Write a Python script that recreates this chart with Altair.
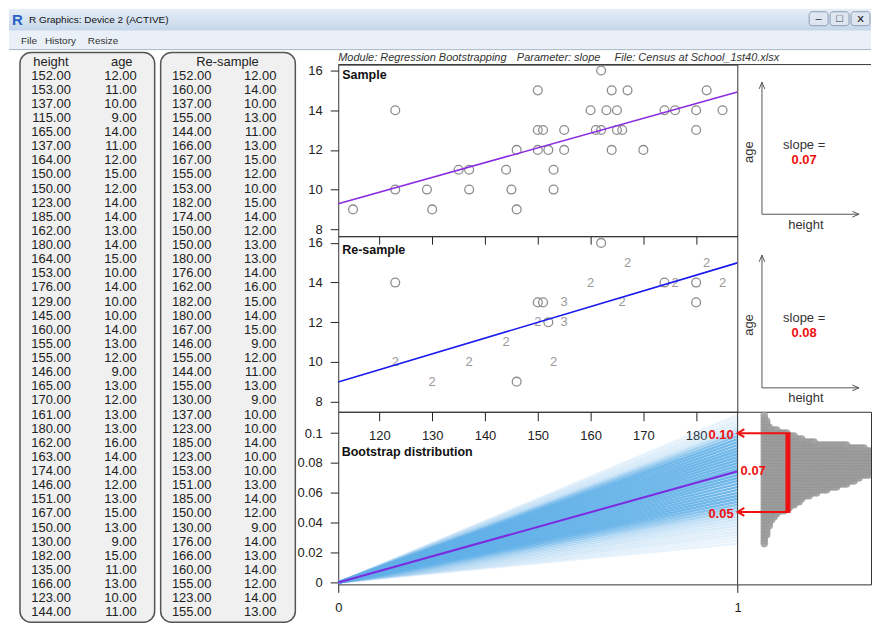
import altair as alt
import numpy as np
import pandas as pd

FONT = "Liberation Sans"

# ---------------- data ----------------
sample_height = [152, 153, 137, 115, 165, 137, 164, 150, 150, 123, 185, 162, 180, 164, 153, 176, 129, 145, 160, 155,
                 155, 146, 165, 170, 161, 180, 162, 163, 174, 146, 151, 167, 150, 130, 182, 135, 166, 123, 144]
sample_age = [12, 11, 10, 9, 14, 11, 12, 15, 12, 14, 14, 13, 14, 15, 10, 14, 10, 10, 14, 13,
              12, 9, 13, 12, 13, 13, 16, 14, 14, 12, 13, 15, 13, 9, 15, 11, 13, 10, 11]
resample_height = [152, 160, 137, 155, 144, 166, 167, 155, 153, 182, 174, 150, 150, 180, 176, 162, 182, 180, 167, 146,
                   155, 144, 155, 130, 137, 123, 185, 123, 153, 151, 185, 150, 130, 176, 166, 160, 155, 123, 155]
resample_age = [12, 14, 10, 13, 11, 13, 15, 12, 10, 15, 14, 12, 13, 13, 14, 16, 15, 14, 15, 9,
                12, 11, 13, 9, 10, 10, 14, 10, 10, 13, 14, 12, 9, 14, 13, 14, 12, 14, 13]

# bootstrap slopes (binned) and how many re-samples fell in each bin
boot_slope = [0.026, 0.028, 0.030, 0.032, 0.034, 0.036, 0.038, 0.040, 0.042, 0.044, 0.046, 0.048, 0.050,
              0.052, 0.054, 0.056, 0.058, 0.060, 0.062, 0.064, 0.066, 0.068, 0.070, 0.072, 0.074, 0.076,
              0.078, 0.080, 0.082, 0.084, 0.086, 0.088, 0.090, 0.092, 0.094, 0.096, 0.098, 0.100, 0.102,
              0.104, 0.106, 0.108, 0.110, 0.112]
boot_count = [1, 1, 1, 2, 2, 2, 3, 3, 4, 5, 6, 9, 11,
              13, 15, 16, 19, 22, 26, 30, 34, 37, 39, 43, 48, 50,
              52, 53, 53, 52, 50, 48, 41, 34, 21, 16, 13, 10, 6,
              3, 2, 2, 1, 1]
ci_bounds = [0.0472, 0.1000]

height_ticks = [120, 130, 140, 150, 160, 170, 180]
age_ticks = [8, 10, 12, 14, 16]
slope_ticks = [0, 0.02, 0.04, 0.06, 0.08, 0.1]
module_info = ["Module: Regression Bootstrapping", "Parameter: slope", "File: Census at School_1st40.xlsx"]
window_title = "R Graphics: Device 2 (ACTIVE)"
menu_items = ["File", "History", "Resize"]

s_sample = float(np.polyfit(sample_height, sample_age, 1)[0])
s_resample = float(np.polyfit(resample_height, resample_age, 1)[0])

DECO = alt.Data(values=[{"k": 0}])
UP = "M-0.42,1L0,0L0.42,1"
RIGHT = "M-1,-0.42L0,0L-1,0.42"
LEFT = "M1,-0.6L0,0L1,0.6"
RED = "#ee1111"


def label(txt, x, y, **kw):
    opts = dict(align="left", baseline="middle", font=FONT, fontSize=13, color="#222")
    opts.update(kw)
    return alt.Chart(DECO).mark_text(**opts).encode(x=alt.value(x), y=alt.value(y), text=alt.value(txt))


def rect(x, x2, y, y2, **kw):
    return alt.Chart(DECO).mark_rect(**kw).encode(x=alt.value(x), x2=alt.value(x2), y=alt.value(y), y2=alt.value(y2))


def hrule(x, x2, y, **kw):
    return alt.Chart(DECO).mark_rule(**kw).encode(x=alt.value(x), x2=alt.value(x2), y=alt.value(y))


# =============== top strip: window chrome + data tables + module line ===============
# local coords: page_x = 338 + x, page_y = 8 + y
grad = alt.Gradient(gradient="linear", x1=0, x2=0, y1=0, y2=1,
                    stops=[alt.GradientStop(offset=0, color="#e6eef7"), alt.GradientStop(offset=1, color="#c5d6ea")])
chrome = [
    rect(-330, 534, 0, 22, fill=grad),
    rect(-330, 534, 22, 41, fill="#eaf0f7"),
    hrule(-330, 534, 41, color="#aab6c6"),
    label("R", -327, 11, fontWeight="bold", fontSize=15, color="#2a62c6"),
    label(window_title, -310, 11, fontSize=10, color="#111"),
    label(menu_items[0], -318, 32, fontSize=10, color="#333"),
    label(menu_items[1], -294, 32, fontSize=10, color="#333"),
    label(menu_items[2], -251, 32, fontSize=10, color="#333"),
    rect(472, 491, 3, 17, fill="#dde6f1", stroke="#8d9db3", cornerRadius=3),
    rect(493, 512, 3, 17, fill="#dde6f1", stroke="#8d9db3", cornerRadius=3),
    rect(514, 533, 3, 17, fill="#dde6f1", stroke="#8d9db3", cornerRadius=3),
    label("–", 481.5, 10, align="center", fontSize=11, color="#333"),
    label("□", 502.5, 10, align="center", fontSize=11, color="#333"),
    label("X", 523.5, 10, align="center", fontSize=10, color="#333", fontWeight="bold"),
]

tab = pd.DataFrame({"i": range(len(sample_height)), "h": sample_height, "a": sample_age,
                    "rh": resample_height, "ra": resample_age})
ysc = alt.Scale(domain=[0, len(sample_height) - 1], range=[67, 605])


def col(field, xr):
    return alt.Chart(tab).mark_text(align="right", baseline="middle", font=FONT, fontSize=13, color="#222").encode(
        x=alt.value(xr), y=alt.Y("i:Q", scale=ysc, axis=None), text=alt.Text(f"{field}:Q", format=".2f"))


tables = [
    rect(-319, -184, 44, 615, fill="#f0f0f0", stroke="#555", strokeWidth=1.5, cornerRadius=11),
    rect(-178, -43, 44, 615, fill="#f0f0f0", stroke="#555", strokeWidth=1.5, cornerRadius=11),
    label("height", -288, 53, align="center"),
    label("age", -217, 53, align="center"),
    label("Re-sample", -111, 53, align="center"),
    col("h", -268), col("a", -202), col("rh", -127), col("ra", -62),
]

module = [
    label(module_info[0], 0, 49, fontSize=11, fontStyle="italic", color="#333"),
    label(module_info[1], 179, 49, fontSize=11, fontStyle="italic", color="#333"),
    label(module_info[2], 277, 49, fontSize=11, fontStyle="italic", color="#333"),
    hrule(0, 534, 56, color="#333"),
]

top = alt.layer(*chrome, *tables, *module).properties(width=534, height=56)

frame = alt.ViewBackground(stroke="#333", strokeWidth=1)
sx = alt.Scale(domain=[112.2, 187.8], nice=False, zero=False)
yax = alt.Axis(values=age_ticks, tickSize=8, labelPadding=8, title=None)


# ---------------- right-hand panels (drawn to the right of the 400px plot) ----------------
def panel(top_y, base, age_y, slope_y, val, height_y):
    g = "#555"
    o = 400
    return [
        alt.Chart(DECO).mark_rule(color=g).encode(x=alt.value(o + 24.7), y=alt.value(top_y), y2=alt.value(base)),
        hrule(o + 24.7, o + 122, base, color=g),
        alt.Chart(DECO).mark_point(shape=UP, filled=False, color=g, size=180, strokeWidth=1, opacity=1).encode(
            x=alt.value(o + 24.7), y=alt.value(top_y)),
        alt.Chart(DECO).mark_point(shape=RIGHT, filled=False, color=g, size=180, strokeWidth=1, opacity=1).encode(
            x=alt.value(o + 122), y=alt.value(base)),
        label("age", o + 12, age_y, align="center", angle=270, color="#333"),
        label("slope =", o + 67, slope_y, align="center", color="#333"),
        label(f"{val:.2f}", o + 67, slope_y + 15, align="center", color=RED, fontWeight="bold"),
        label("height", o + 68.7, height_y, align="center", color="#333"),
    ]


# ---------------- sample plot ----------------
samp = pd.DataFrame({"height": sample_height, "age": sample_age})
sy1 = alt.Scale(domain=[7.65, 16.30], nice=False, zero=False)
xax1 = alt.Axis(values=height_ticks, labels=False, tickSize=8, title=None)
pts1 = alt.Chart(samp).mark_point(shape="circle", filled=False, color="#8c8c8c", size=78, strokeWidth=1.3,
                                  opacity=1).encode(
    x=alt.X("height:Q", scale=sx, axis=xax1), y=alt.Y("age:Q", scale=sy1, axis=yax))
line1 = alt.Chart(samp).transform_regression("height", "age", extent=[112.2, 187.8]).mark_line(
    color="#8a2be2", strokeWidth=1.6, clip=True).encode(x=alt.X("height:Q", axis=xax1), y=alt.Y("age:Q", axis=yax))
plot1 = alt.layer(pts1, line1, label("Sample", 4, 10, fontWeight="bold", fontSize=12.5, color="#111"),
                  *panel(17.7, 150, 87.7, 81, s_sample, 161)).properties(width=400, height=172, view=frame)

# ---------------- re-sample plot ----------------
rs = pd.DataFrame({"height": resample_height, "age": resample_age})
sy2 = alt.Scale(domain=[7.48, 16.34], nice=False, zero=False)
xax2 = alt.Axis(values=height_ticks, tickSize=9, labelPadding=9, title=None)
agg = alt.Chart(rs).transform_aggregate(n="count()", groupby=["height", "age"])
pts2 = agg.transform_filter("datum.n == 1").mark_point(shape="circle", filled=False, color="#8c8c8c", size=78,
                                                       strokeWidth=1.3, opacity=1).encode(
    x=alt.X("height:Q", scale=sx, axis=xax2), y=alt.Y("age:Q", scale=sy2, axis=yax))
nums2 = agg.transform_filter("datum.n > 1").mark_text(font=FONT, fontSize=13, color="#9a9a9a",
                                                      baseline="middle").encode(
    x=alt.X("height:Q", axis=xax2), y=alt.Y("age:Q", axis=yax), text="n:Q")
line2 = alt.Chart(rs).transform_regression("height", "age", extent=[112.2, 187.8]).mark_line(
    color="#1a1aee", strokeWidth=1.6, clip=True).encode(x=alt.X("height:Q", axis=xax2), y=alt.Y("age:Q", axis=yax))
plot2 = alt.layer(pts2, nums2, line2, label("Re-sample", 4, 14, fontWeight="bold", fontSize=12.5, color="#111"),
                  *panel(19, 152, 89, 82, s_resample, 162)).properties(width=400, height=176, view=frame)

# ---------------- bootstrap distribution ----------------
boot = pd.DataFrame({"slope": boot_slope, "count": boot_count})
sx3 = alt.Scale(domain=[0, 1.334], nice=False, zero=False)
sy3 = alt.Scale(domain=[-0.0013, 0.1143], nice=False, zero=False)
xax3 = alt.Axis(values=[0, 1], format="d", tickSize=8, labelPadding=9, title=None)
yax3 = alt.Axis(values=slope_ticks, format="~g", tickSize=8, labelPadding=8, labelOverlap=False, title=None)


def X3(f):
    return alt.X(f, scale=sx3, axis=xax3)


def Y3(f):
    return alt.Y(f, scale=sy3, axis=yax3)


fan = alt.Chart(boot).transform_calculate(x0="0", x1="1", y0="0").mark_rule(color="#62b0e8", strokeWidth=2.5).encode(
    x=X3("x0:Q"), x2="x1:Q", y=Y3("y0:Q"), y2="slope:Q",
    opacity=alt.Opacity("count:Q", scale=alt.Scale(domain=[1, 16], range=[0.15, 0.9], clamp=True), legend=None))
main = alt.Chart(pd.DataFrame({"s": [s_sample]})).transform_calculate(x0="0", x1="1", y0="0").mark_rule(
    color="#7b2be0", strokeWidth=2).encode(x=X3("x0:Q"), x2="x1:Q", y=Y3("y0:Q"), y2="s:Q")
vline = alt.Chart(pd.DataFrame({"one": [1]})).mark_rule(color="#333", strokeWidth=1).encode(x=X3("one:Q"))

dots_df = boot.loc[boot.index.repeat(boot["count"])].reset_index(drop=True)
dots_df["k"] = dots_df.groupby("slope").cumcount()
dots = alt.Chart(dots_df[["slope", "k"]]).transform_calculate(xd="1.0667 + datum.k * 0.00625").mark_point(
    shape="circle", filled=True, fill="#a0a0a0", fillOpacity=0.85, stroke="#8c8c8c", strokeOpacity=0.35,
    size=50, strokeWidth=1, clip=True).encode(x=X3("xd:Q"), y=Y3("slope:Q"))

ends = pd.DataFrame({"v": ci_bounds})
bar = alt.Chart(pd.DataFrame({"lo": [ci_bounds[0]], "hi": [ci_bounds[1]]})).mark_rect(color=RED).encode(
    x=alt.datum(1.1197), x2=alt.datum(1.1322), y=Y3("lo:Q"), y2="hi:Q")
arrows = alt.Chart(ends).mark_rule(color=RED, strokeWidth=2).encode(
    x=alt.datum(1), x2=alt.datum(1.1322), y=Y3("v:Q"))
heads = alt.Chart(ends).mark_point(shape=LEFT, filled=False, color=RED, strokeWidth=2, size=180, opacity=1).encode(
    x=alt.datum(1), y=Y3("v:Q"))
ci_labs = alt.Chart(ends).mark_text(align="right", baseline="middle", dx=-4, dy=2, font=FONT, fontSize=13,
                                    fontWeight="bold", color=RED).encode(
    x=alt.datum(1), y=Y3("v:Q"), text=alt.Text("v:Q", format=".2f"))
est_lab = alt.Chart(pd.DataFrame({"s": [s_sample]})).mark_text(
    align="left", baseline="middle", dx=3, font=FONT, fontSize=13, fontWeight="bold", color=RED).encode(
    x=alt.datum(1), y=Y3("s:Q"), text=alt.Text("s:Q", format=".2f"))

plot3 = alt.layer(fan, main, vline, dots, bar, arrows, heads, ci_labs, est_lab,
                  label("Bootstrap distribution", 3.5, 40, fontWeight="bold", fontSize=12.5, color="#111")
                  ).properties(width=534, height=173, view=frame)

# ---------------- assembly ----------------
chart = alt.vconcat(top, plot1, plot2, plot3, spacing=0, bounds="flush").properties(
    padding=0, background="white"
).configure_view(stroke=None).configure_axis(
    labelFont=FONT, labelFontSize=13, labelColor="#222", tickColor="#222", domain=False, grid=False,
    labelFlush=False
)

chart.save("out.html", embed_options={"renderer": "svg", "actions": False})
